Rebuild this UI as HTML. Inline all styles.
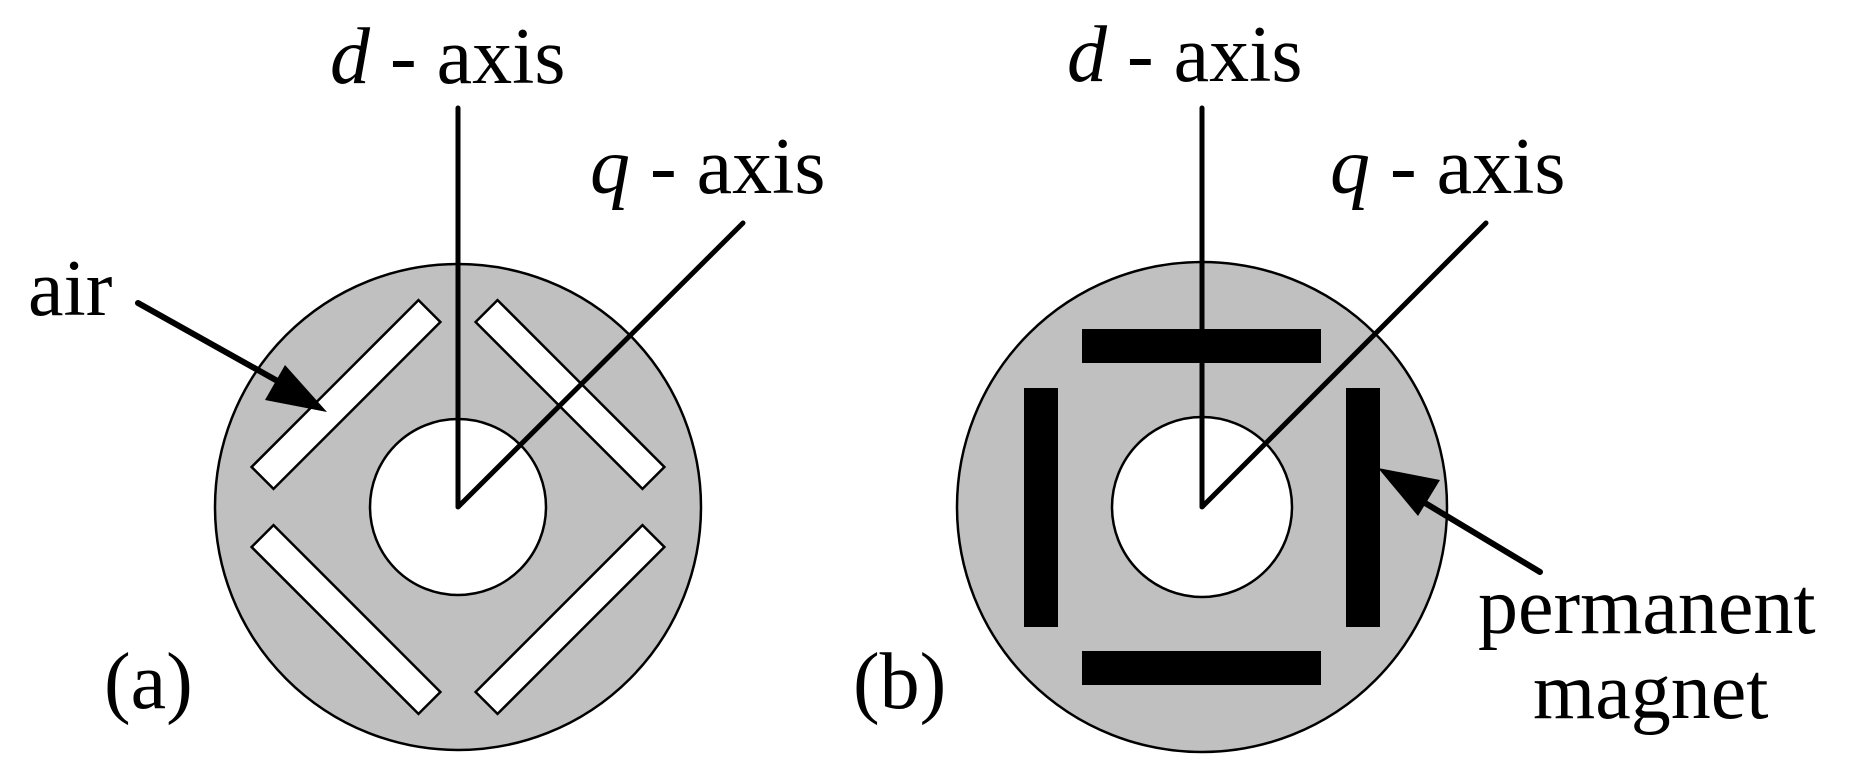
<!DOCTYPE html>
<html><head><meta charset="utf-8"><style>
html,body{margin:0;padding:0;background:#fff;}
svg{display:block;}
text{font-family:"Liberation Serif","Times New Roman","DejaVu Serif",serif;font-size:80px;fill:#000;}
</style></head><body>
<svg width="1864" height="778" viewBox="0 0 1864 778" xmlns="http://www.w3.org/2000/svg" font-family="'Liberation Serif', 'Times New Roman', 'DejaVu Serif', serif">
<!-- (a) -->
<circle cx="458" cy="507" r="243" fill="#c0c0c0" stroke="#000" stroke-width="2.5"/>
<circle cx="458" cy="507" r="88" fill="#fff" stroke="#000" stroke-width="2.5"/>
<g fill="#fff" stroke="#000" stroke-width="2.5">
<rect x="-118" y="-15.5" width="236" height="31" transform="translate(346,394.5) rotate(-45)"/>
<rect x="-118" y="-15.5" width="236" height="31" transform="translate(570,394.5) rotate(45)"/>
<rect x="-118" y="-15.5" width="236" height="31" transform="translate(346,619.5) rotate(45)"/>
<rect x="-118" y="-15.5" width="236" height="31" transform="translate(570,619.5) rotate(-45)"/>
</g>
<polyline points="458,108 458,507 743,223" fill="none" stroke="#000" stroke-width="5" stroke-linecap="round" stroke-linejoin="round"/>
<line x1="138" y1="303" x2="290" y2="388" stroke="#000" stroke-width="6" stroke-linecap="round"/>
<polygon points="327,412 265,400 285,365" fill="#000"/>
<text x="330" y="83"><tspan font-style="italic">d</tspan> - axis</text>
<text x="590" y="193"><tspan font-style="italic">q</tspan> - axis</text>
<text x="28" y="315">air</text>
<text x="104" y="708">(a)</text>
<!-- (b) -->
<circle cx="1202" cy="507" r="245" fill="#c0c0c0" stroke="#000" stroke-width="2.5"/>
<circle cx="1202" cy="507" r="90" fill="#fff" stroke="#000" stroke-width="2.5"/>
<g fill="#000">
<rect x="1024" y="388" width="34" height="239"/>
<rect x="1346" y="388" width="34" height="239"/>
<rect x="1082" y="329" width="239" height="34"/>
<rect x="1082" y="651" width="239" height="34"/>
</g>
<polyline points="1202,108 1202,507 1486,223" fill="none" stroke="#000" stroke-width="5" stroke-linecap="round" stroke-linejoin="round"/>
<line x1="1540" y1="572" x2="1420" y2="500" stroke="#000" stroke-width="6" stroke-linecap="round"/>
<polygon points="1378,468 1440,480 1418,516" fill="#000"/>
<text x="1067" y="81"><tspan font-style="italic">d</tspan> - axis</text>
<text x="1330" y="193"><tspan font-style="italic">q</tspan> - axis</text>
<text x="1478" y="633">permanent</text>
<text x="1533" y="718">magnet</text>
<text x="853" y="708">(b)</text>
</svg>
</body></html>
